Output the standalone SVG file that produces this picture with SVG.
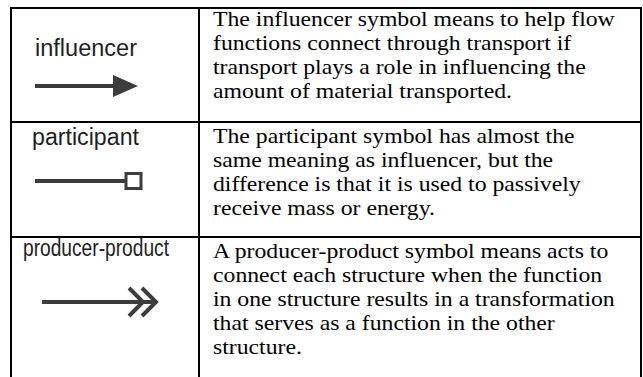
<svg xmlns="http://www.w3.org/2000/svg" width="643" height="377" viewBox="0 0 643 377">
  <style>
    .grid { stroke: #000; stroke-width: 2; fill: none; }
    .desc { font-family: "Liberation Serif", "Times New Roman", serif; font-size: 21px; fill: #000; }
    .lbl { font-family: "Liberation Sans", Arial, sans-serif; font-size: 23px; fill: #1e1e1e; }
    .sym { stroke: #3c3c3c; stroke-width: 4; fill: none; }
  </style>
  <rect x="0" y="0" width="643" height="377" fill="#fff"/>

  <!-- table grid -->
  <g id="table">
    <path class="grid" d="M11 378 V8 H641 V378 M199 8 V378 M11 122 H641 M11 237 H641"/>
  </g>

  <!-- row 1: influencer -->
  <g id="influencer">
    <text class="lbl" x="35" y="56" textLength="102" lengthAdjust="spacingAndGlyphs">influencer</text>
    <line class="sym" x1="35" y1="86" x2="116" y2="86"/>
    <polygon points="113,75 138,86 113,97" fill="#3c3c3c"/>
    <g transform="translate(213 0) scale(1.13 1)">
      <text class="desc" x="0" y="26">The influencer symbol means to help flow</text>
      <text class="desc" x="0" y="50">functions connect through transport if</text>
      <text class="desc" x="0" y="74">transport plays a role in influencing the</text>
      <text class="desc" x="0" y="98">amount of material transported.</text>
    </g>
  </g>

  <!-- row 2: participant -->
  <g id="participant">
    <text class="lbl" x="32" y="145" textLength="107" lengthAdjust="spacingAndGlyphs">participant</text>
    <line class="sym" x1="35" y1="181" x2="126" y2="181" stroke-width="3"/>
    <rect x="126" y="173.5" width="15" height="15" fill="#fff" stroke="#3c3c3c" stroke-width="3"/>
    <g transform="translate(213 0) scale(1.13 1)">
      <text class="desc" x="0" y="143">The participant symbol has almost the</text>
      <text class="desc" x="0" y="167">same meaning as influencer, but the</text>
      <text class="desc" x="0" y="191">difference is that it is used to passively</text>
      <text class="desc" x="0" y="215">receive mass or energy.</text>
    </g>
  </g>

  <!-- row 3: producer-product -->
  <g id="producer-product">
    <text class="lbl" x="23" y="256" font-size="24" textLength="146" lengthAdjust="spacingAndGlyphs">producer-product</text>
    <line class="sym" x1="42" y1="302" x2="155" y2="302"/>
    <polyline class="sym" points="129,288 143,302 129,316"/>
    <polyline class="sym" points="142,288 156,302 142,316"/>
    <g transform="translate(213 0) scale(1.13 1)">
      <text class="desc" x="0" y="258">A producer-product symbol means acts to</text>
      <text class="desc" x="0" y="282">connect each structure when the function</text>
      <text class="desc" x="0" y="306">in one structure results in a transformation</text>
      <text class="desc" x="0" y="330">that serves as a function in the other</text>
      <text class="desc" x="0" y="354">structure.</text>
    </g>
  </g>
</svg>
